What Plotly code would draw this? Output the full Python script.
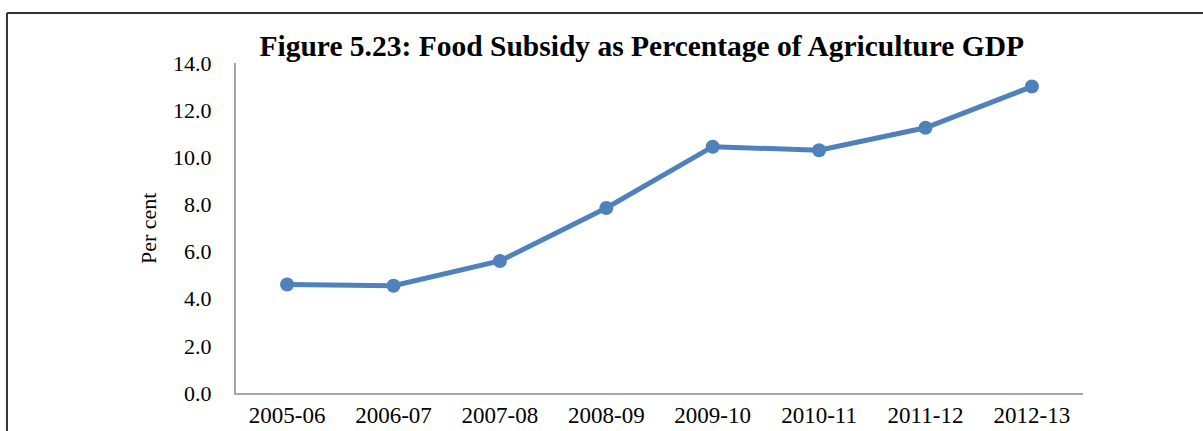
import plotly.graph_objects as go

# Dados
years = ["2005-06", "2006-07", "2007-08", "2008-09", "2009-10", "2010-11", "2011-12", "2012-13"]
subsidy_pct = [4.6, 4.55, 5.6, 7.85, 10.45, 10.3, 11.25, 13.0]
y_ticks = [0, 2, 4, 6, 8, 10, 12, 14]

serif = "Liberation Serif, Times New Roman, serif"

fig = go.Figure()
fig.add_trace(go.Scatter(
    x=years,
    y=subsidy_pct,
    mode="lines+markers",
    line=dict(color="#4f81bd", width=5),
    marker=dict(color="#4f81bd", size=14),
    showlegend=False,
))

fig.update_layout(
    width=1203,
    height=431,
    margin=dict(l=236, r=120, t=63, b=38),
    paper_bgcolor="white",
    plot_bgcolor="white",
    font=dict(family=serif, color="black", size=22),
    title=dict(
        text="<b>Figure 5.23: Food Subsidy as Percentage of Agriculture GDP</b>",
        font=dict(family=serif, size=29.5, color="black"),
        xref="paper", x=0.479, xanchor="center",
        yref="container", y=0.893, yanchor="middle",
    ),
)

fig.update_xaxes(
    type="category",
    showline=True, linecolor="#a6a6a6", linewidth=2,
    showgrid=False, ticks="", ticklabelstandoff=0, automargin=False,
    tickfont=dict(family=serif, size=23),
)
fig.update_yaxes(
    range=[0, 14],
    tickvals=y_ticks,
    tickformat=".1f",
    showline=True, linecolor="#a6a6a6", linewidth=2,
    showgrid=False, ticks="", ticklabelstandoff=18, zeroline=False, automargin=False,
    tickfont=dict(family=serif, size=22),
)

# título do eixo y
fig.add_annotation(
    text="Per cent", textangle=-90,
    xref="paper", yref="paper", x=-0.1039, y=0.5,
    xanchor="center", yanchor="middle", showarrow=False,
    font=dict(family=serif, size=22),
)

# texto cortado do documento acima da figura
fig.add_annotation(
    text="to the targeted households).", xref="paper", yref="paper",
    x=-0.29, y=1.185, xanchor="left", yanchor="bottom", showarrow=False,
    font=dict(family=serif, size=24),
)
fig.add_annotation(
    text="shown in Figure 5.23", xref="paper", yref="paper",
    x=0.47, y=1.185, xanchor="left", yanchor="bottom", showarrow=False,
    font=dict(family=serif, size=24),
)

# moldura da figura (esquerda e topo)
fig.add_shape(type="line", xref="paper", yref="paper",
              x0=-0.2704, x1=-0.2704, y0=1.1515, y1=-0.2,
              line=dict(color="#333333", width=2))
fig.add_shape(type="line", xref="paper", yref="paper",
              x0=-0.2704, x1=1.2, y0=1.1515, y1=1.1515,
              line=dict(color="#333333", width=2))

fig.write_html("out.html", config={"displayModeBar": False},
               post_script="document.body.style.margin='0';")
